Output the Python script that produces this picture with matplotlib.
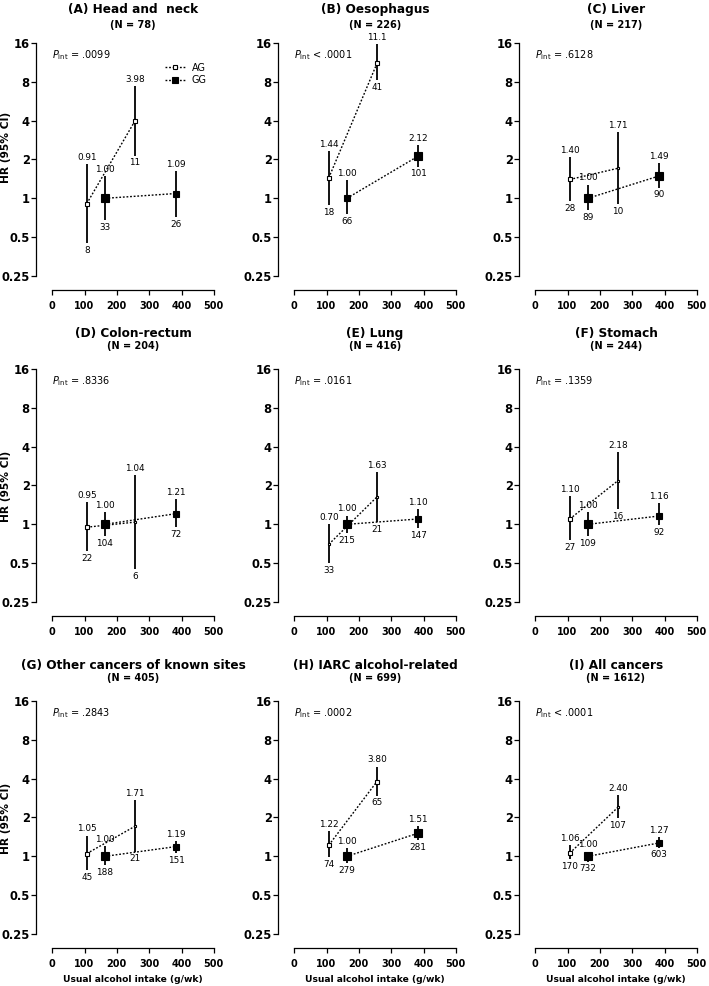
import numpy as np
import matplotlib
matplotlib.use('Agg')
import matplotlib.pyplot as plt
from matplotlib.lines import Line2D
from matplotlib.ticker import NullLocator

plt.rcParams['font.family'] = ['DejaVu Sans']
plt.rcParams['mathtext.fontset'] = 'dejavusans'

# panel info
titles = ['(A) Head and  neck', '(B) Oesophagus', '(C) Liver',
          '(D) Colon-rectum', '(E) Lung', '(F) Stomach',
          '(G) Other cancers of known sites', '(H) IARC alcohol-related', '(I) All cancers']
n_total = [78, 226, 217, 204, 416, 244, 405, 699, 1612]
p_int = ['= .0099', '< .0001', '= .6128', '= .8336', '= .0161', '= .1359',
         '= .2843', '= .0002', '< .0001']

# usual alcohol intake (g/wk) of the two groups per genotype
ag_intake = [107, 256]
gg_intake = [163, 383]

# AG genotype: HR, lower / upper 95% CI, number of cases
ag_hr = [[0.91, 3.98], [1.44, 11.1], [1.40, 1.71], [0.95, 1.04], [0.70, 1.63],
         [1.10, 2.18], [1.05, 1.71], [1.22, 3.80], [1.06, 2.40]]
ag_lo = [[0.45, 2.14], [0.89, 8.3], [0.95, 0.90], [0.62, 0.45], [0.50, 1.04],
         [0.75, 1.31], [0.78, 1.09], [0.98, 2.96], [0.95, 1.98]]
ag_hi = [[1.85, 7.45], [2.34, 15.7], [2.08, 3.25], [1.49, 2.40], [1.01, 2.55],
         [1.66, 3.63], [1.45, 2.71], [1.58, 4.97], [1.22, 3.00]]
ag_n = [[8, 11], [18, 41], [28, 10], [22, 6], [33, 21],
        [27, 16], [45, 21], [74, 65], [170, 107]]

# GG genotype
gg_hr = [[1.00, 1.09], [1.00, 2.12], [1.00, 1.49], [1.00, 1.21], [1.00, 1.10],
         [1.00, 1.16], [1.00, 1.19], [1.00, 1.51], [1.00, 1.27]]
gg_lo = [[0.68, 0.72], [0.75, 1.76], [0.81, 1.21], [0.81, 0.95], [0.86, 0.93],
         [0.81, 0.98], [0.86, 1.06], [0.88, 1.34], [0.91, 1.17]]
gg_hi = [[1.50, 1.64], [1.39, 2.60], [1.28, 1.89], [1.24, 1.56], [1.17, 1.32],
         [1.24, 1.46], [1.20, 1.32], [1.16, 1.71], [1.09, 1.40]]
gg_n = [[33, 26], [66, 101], [89, 90], [104, 72], [215, 147],
        [109, 92], [188, 151], [279, 281], [732, 603]]

yticks = [0.25, 0.5, 1, 2, 4, 8, 16]
ylabels = ['0.25', '0.5', '1', '2', '4', '8', '16']
xticks = [0, 100, 200, 300, 400, 500]


def fmt(v):
    return f'{v:.1f}' if v >= 10 else f'{v:.2f}'


W, H = 709, 986
fig = plt.figure(figsize=(W / 100, H / 100), dpi=100)

col_left = [36, 278, 519]
row_y16 = [43, 369, 701]
title_off = [24, 26, 26]     # px above axes top
n_off = [8.5, 13, 13]
ylab_y = [0.555, 0.506, 0.506]
pxd = 38.83   # pixels per doubling
ax_w, ax_h = 194, 257
PT = 0.72     # points per pixel

for i in range(9):
    r, c = divmod(i, 3)
    top = row_y16[r] - 10
    ax = fig.add_axes([col_left[c] / W, 1 - (top + ax_h) / H, ax_w / W, ax_h / H])
    ax.set_yscale('log', base=2)
    ax.set_xlim(-50, 550)
    ax.set_ylim(0.25 * 2 ** (-14 / pxd), 16 * 2 ** (10 / pxd))

    for s in ['top', 'right']:
        ax.spines[s].set_visible(False)
    ax.spines['left'].set_bounds(0.25, 16)
    ax.spines['bottom'].set_bounds(0, 500)
    for s in ['left', 'bottom']:
        ax.spines[s].set_linewidth(0.9)

    ax.set_yticks(yticks, labels=ylabels, fontweight='bold', fontsize=8.3)
    ax.set_xticks(xticks, labels=[str(t) for t in xticks], fontweight='bold', fontsize=7)
    ax.yaxis.set_minor_locator(NullLocator())
    ax.tick_params(axis='both', direction='out', length=3.3, width=0.9)
    ax.tick_params(axis='y', pad=1.2)
    ax.tick_params(axis='x', pad=4.5)

    # max cases in panel for marker scaling
    nmax = max(ag_n[i] + gg_n[i])

    for xs, hr, lo, hi, nn, face in [(ag_intake, ag_hr[i], ag_lo[i], ag_hi[i], ag_n[i], 'white'),
                                     (gg_intake, gg_hr[i], gg_lo[i], gg_hi[i], gg_n[i], 'black')]:
        ax.plot(xs, hr, color='k', lw=1.0, ls=(0, (1.3, 1.3)), zorder=1)
        ax.vlines(xs, lo, hi, color='k', lw=1.3, zorder=2)
        for x, h, l, u, n in zip(xs, hr, lo, hi, nn):
            side = max(7.4 * np.sqrt(n / nmax), 2.4)
            ax.plot([x], [h], marker='s', ms=side * PT, mfc=face, mec='k', mew=0.8,
                    ls='none', zorder=3)
            ax.annotate(fmt(h), xy=(x, u), xytext=(0, 1.5), textcoords='offset points',
                        ha='center', va='bottom', fontsize=6.4)
            ax.annotate(str(n), xy=(x, l), xytext=(0, -2), textcoords='offset points',
                        ha='center', va='top', fontsize=6.4)

    ax.text(0, 16 * 2 ** (-12 / pxd), r'$P_{\mathrm{int}}$ ' + p_int[i],
            ha='left', va='center', fontsize=7)

    ax.annotate(titles[i], xy=(250, 1), xycoords=('data', 'axes fraction'),
                xytext=(0, title_off[r] * PT), textcoords='offset points',
                ha='center', va='center', fontsize=8.7, fontweight='bold')
    ax.annotate(f'(N = {n_total[i]})', xy=(250, 1), xycoords=('data', 'axes fraction'),
                xytext=(0, n_off[r] * PT), textcoords='offset points',
                ha='center', va='center', fontsize=7, fontweight='bold')

    if c == 0:
        ax.set_ylabel('HR (95% CI)', fontsize=7.7, fontweight='bold')
        ax.yaxis.set_label_coords(-25 / ax_w, ylab_y[r])
    if r == 2:
        ax.annotate('Usual alcohol intake (g/wk)', xy=(250, 0), xycoords=('data', 'axes fraction'),
                    xytext=(0, -31 * PT), textcoords='offset points',
                    ha='center', va='center', fontsize=6.6, fontweight='bold')

    if i == 0:
        handles = [Line2D([], [], color='k', lw=1.0, ls=(0, (1.3, 1.3)), marker='s', ms=4 * PT * 1.2,
                          mfc='white', mec='k', mew=0.8),
                   Line2D([], [], color='k', lw=1.0, ls=(0, (1.3, 1.3)), marker='s', ms=5 * PT * 1.2,
                          mfc='black', mec='k', mew=0.8)]
        ax.legend(handles, ['AG', 'GG'], loc='upper right', bbox_to_anchor=(0.9, 0.9),
                  frameon=False, fontsize=7, handlelength=2.0, handletextpad=0.7,
                  labelspacing=0.25, borderaxespad=0)

fig.savefig('out.png', dpi=100)
